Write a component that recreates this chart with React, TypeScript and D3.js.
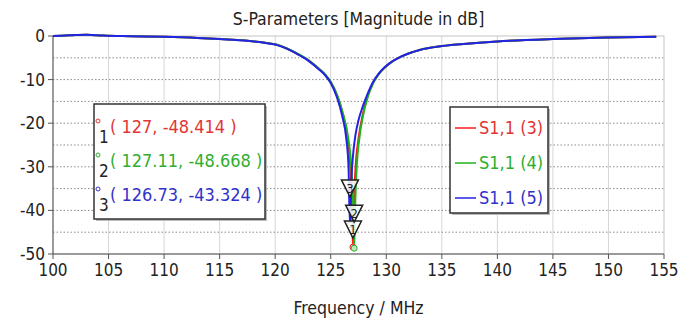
import * as d3 from "d3";

// S1,1 curves (frequency in MHz, magnitude in dB)
const freq3 = [100, 101.5, 103, 104.5, 107, 110, 113, 115, 117.5, 119, 120, 121, 122, 123, 124, 124.5, 125, 125.6, 126.1, 126.5, 126.75, 126.9, 127, 127.1, 127.25, 127.5, 127.9, 128.3, 128.8, 129.3, 129.8, 130.4, 131.3, 133, 135, 137.5, 140, 145, 150, 154.3];
const db3 = [0, 0.15, 0.3, 0.1, -0.05, -0.2, -0.45, -0.7, -1.1, -1.5, -1.9, -2.8, -4.1, -5.6, -7.7, -8.9, -10.6, -13.8, -18, -23, -29.5, -37, -48.414, -37.5, -29.5, -23.5, -17.8, -14.0, -10.8, -8.8, -7.4, -6.1, -4.8, -3.2, -2.3, -1.7, -1.25, -0.7, -0.35, -0.15];

const freq4 = [100, 101.5, 103, 104.5, 107, 110, 113, 115, 117.5, 119, 120, 121, 122, 123, 124, 124.5, 125, 125.6, 126.1, 126.55, 126.84, 127.0, 127.11, 127.21, 127.34, 127.56, 127.93, 128.32, 128.8, 129.3, 129.8, 130.4, 131.3, 133, 135, 137.5, 140, 145, 150, 154.3];
const db4 = [0, 0.15, 0.3, 0.1, -0.05, -0.2, -0.45, -0.7, -1.1, -1.5, -1.9, -2.8, -4.05, -5.55, -7.6, -8.8, -10.5, -13.7, -17.8, -23, -29.5, -37.5, -48.668, -38, -30, -23.8, -18, -14.1, -10.9, -8.8, -7.4, -6.1, -4.8, -3.2, -2.3, -1.7, -1.25, -0.7, -0.35, -0.15];

const freq5 = [100, 101.5, 103, 104.5, 107, 110, 113, 115, 117.5, 119, 120, 121, 122, 123, 124, 124.5, 125, 125.55, 126.03, 126.4, 126.6, 126.73, 126.86, 127.02, 127.24, 127.48, 127.88, 128.28, 128.8, 129.3, 129.8, 130.4, 131.3, 133, 135, 137.5, 140, 145, 150, 154.3];
const db5 = [0, 0.15, 0.3, 0.1, -0.05, -0.2, -0.45, -0.7, -1.1, -1.55, -1.95, -2.85, -4.15, -5.7, -7.8, -9.0, -10.8, -14, -18.3, -23.5, -30, -43.324, -33, -27, -22.5, -19.5, -16.2, -13.5, -10.6, -8.7, -7.3, -6.05, -4.75, -3.2, -2.3, -1.7, -1.25, -0.7, -0.35, -0.15];

const seriesNames = ["S1,1 (3)", "S1,1 (4)", "S1,1 (5)"];
const markerIds = ["1", "2", "3"];
const markerFreq = [127, 127.11, 126.73];
const markerDb = [-48.414, -48.668, -43.324];

const xTicks = [100, 105, 110, 115, 120, 125, 130, 135, 140, 145, 150, 155];
const yTicks = [0, -10, -20, -30, -40, -50];
const yMinor = [-5, -15, -25, -35, -45];

const lineColors = ["#ff1a1a", "#1db31d", "#2323e6"];
const textColors = ["#e23535", "#2fae2f", "#3232c8"];
const font = "Tahoma, 'DejaVu Sans Condensed', 'Liberation Sans Narrow', 'DejaVu Sans', sans-serif";

const W = 680, H = 324;
const margin = { top: 36, right: 16, bottom: 70, left: 53 };
// how far each marker's triangle sits above its point (px)
const triLift = [9, 26, 28];

export default function App() {
  const x = d3.scaleLinear().domain([100, 155]).range([margin.left, W - margin.right]);
  const y = d3.scaleLinear().domain([0, -50]).range([margin.top, H - margin.bottom]);

  const series = [
    freq3.map((f, i) => ({ f, v: db3[i] })),
    freq4.map((f, i) => ({ f, v: db4[i] })),
    freq5.map((f, i) => ({ f, v: db5[i] })),
  ];
  const line = d3.line<{ f: number; v: number }>()
    .x(d => x(d.f))
    .y(d => y(d.v))
    .curve(d3.curveMonotoneX);

  const x0 = x(100), x1 = x(155), y0 = y(0), y1 = y(-50);

  return (
    <svg width={W} height={H} style={{ position: "absolute", left: 0, top: 0, background: "#fff" }} fontFamily={font}>
      <text x={(x0 + x1) / 2} y={25} textAnchor="middle" fontSize={17.5} fill="#222">S-Parameters [Magnitude in dB]</text>

      {/* grid */}
      {xTicks.slice(1, -1).map(t => (
        <line key={"vx" + t} x1={x(t)} x2={x(t)} y1={y0} y2={y1} stroke="#d6d6d6" strokeWidth={1} />
      ))}
      {[...yTicks.slice(1, -1), ...yMinor].map(t => (
        <line key={"hy" + t} x1={x0} x2={x1} y1={y(t)} y2={y(t)} stroke="#8c8c8c" strokeWidth={1} strokeDasharray="1.5,2" />
      ))}
      <rect x={x0} y={y0} width={x1 - x0} height={y1 - y0} fill="none" stroke="#c4c4c4" />
      <line x1={x0} x2={x0} y1={y0} y2={y1} stroke="#555" />
      <line x1={x0} x2={x1} y1={y1} y2={y1} stroke="#555" />

      {/* ticks */}
      {xTicks.map(t => (
        <g key={"xt" + t}>
          <line x1={x(t)} x2={x(t)} y1={y1} y2={y1 + 5} stroke="#555" />
          <text x={x(t)} y={y1 + 22} textAnchor="middle" fontSize={17} fill="#222">{t}</text>
        </g>
      ))}
      {yTicks.map(t => (
        <g key={"yt" + t}>
          <line x1={x0 - 5} x2={x0} y1={y(t)} y2={y(t)} stroke="#555" />
          <text x={x0 - 8} y={y(t) + 6} textAnchor="end" fontSize={17} fill="#222">{t}</text>
        </g>
      ))}
      <text x={(x0 + x1) / 2} y={314} textAnchor="middle" fontSize={17.5} fill="#222">Frequency / MHz</text>

      {/* curves */}
      {series.map((s, i) => (
        <path key={"s" + i} d={line(s) ?? ""} fill="none" stroke={lineColors[i]} strokeWidth={2} />
      ))}

      {/* markers */}
      {markerFreq.map((f, i) => (
        <circle key={"m" + i} cx={x(f)} cy={y(markerDb[i])} r={3} fill="#bfe8bf" stroke={lineColors[i]} strokeWidth={1} />
      ))}
      {markerFreq.map((f, i) => {
        const cx = x(f), tip = y(markerDb[i]) - triLift[i];
        const s = 8.5, h = 17;
        return (
          <g key={"tri" + i}>
            <path d={`M${cx},${tip}L${cx - s},${tip - h}L${cx + s},${tip - h}Z`} fill="rgba(255,255,255,0.85)" stroke="#222" strokeWidth={1.5} />
            <text x={cx} y={tip - 4} textAnchor="middle" fontSize={13} fill="#222">{markerIds[i]}</text>
          </g>
        );
      })}

      {/* marker readout box */}
      <rect x={96} y={106} width={171} height={115} fill="#bbb" />
      <rect x={94} y={104} width={171} height={115} fill="#fff" stroke="#333" strokeWidth={1.5} />
      {markerIds.map((id, i) => {
        const base = 133 + i * 34;
        return (
          <g key={"mk" + i}>
            <circle cx={98} cy={base - 12} r={2} fill="none" stroke={textColors[i]} strokeWidth={1} />
            <text x={99} y={base + 10} fontSize={17} fill="#222">{id}</text>
            <text x={110} y={base} fontSize={18} fill={textColors[i]}>{`( ${markerFreq[i]}, ${markerDb[i]} )`}</text>
          </g>
        );
      })}

      {/* legend */}
      <rect x={452} y={109} width={98} height={106} fill="#bbb" />
      <rect x={450} y={107} width={98} height={106} fill="#fff" stroke="#333" strokeWidth={1.5} />
      {seriesNames.map((n, i) => {
        const cy = 128 + i * 35;
        return (
          <g key={"lg" + i}>
            <line x1={455} x2={476} y1={cy} y2={cy} stroke={lineColors[i]} strokeWidth={1.5} />
            <text x={479} y={cy + 6} fontSize={18} fill={textColors[i]}>{n}</text>
          </g>
        );
      })}
    </svg>
  );
}
